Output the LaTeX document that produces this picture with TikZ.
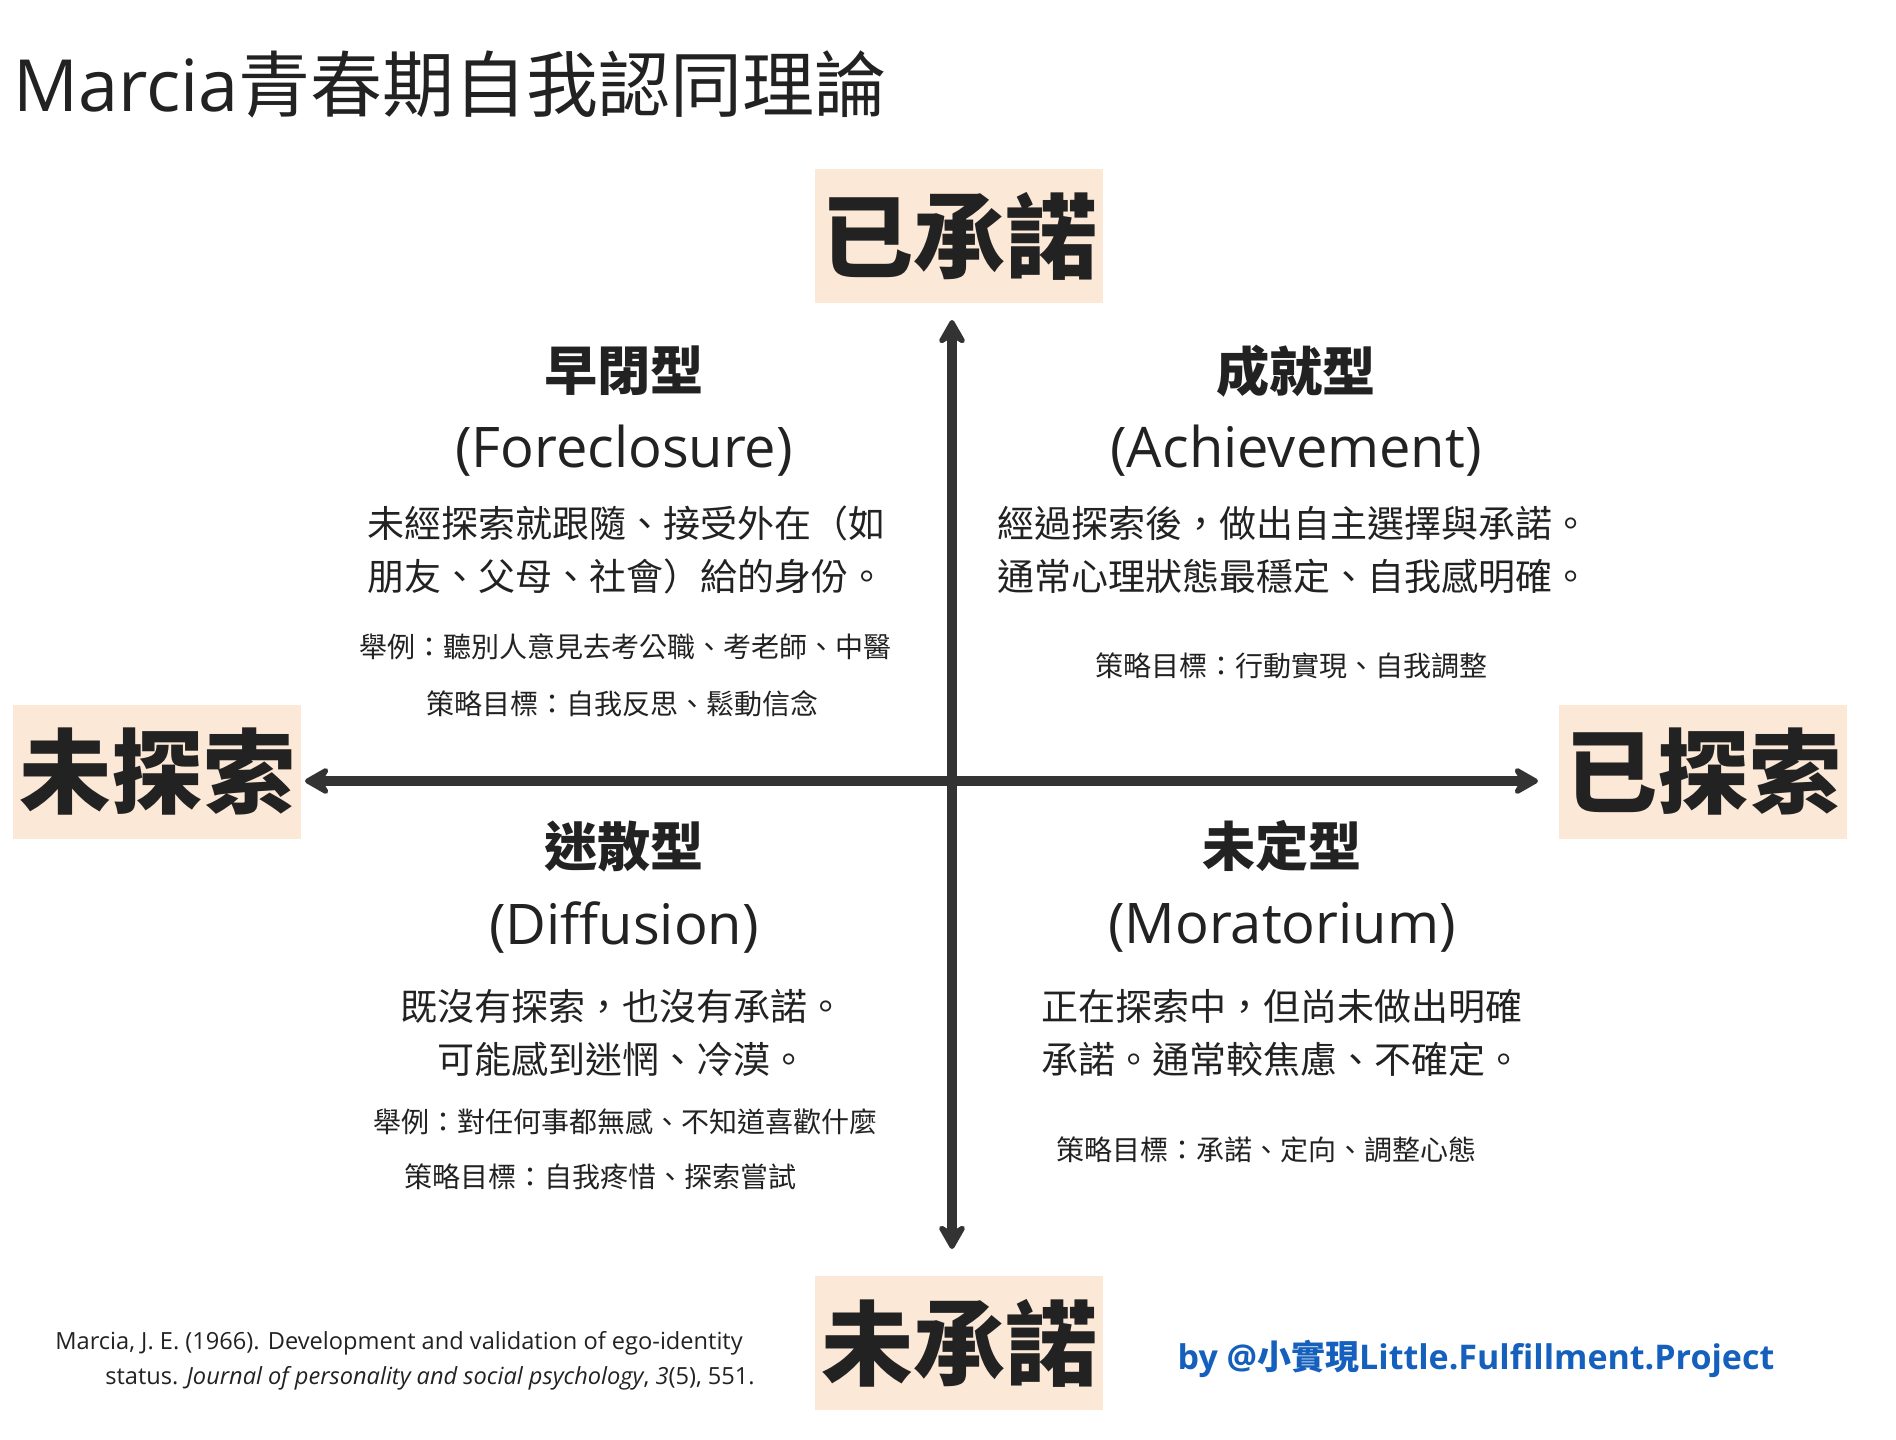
\documentclass[tikz,border=0pt]{standalone}
\usepackage{fontspec}
\setmainfont{Open Sans}
\newfontfamily\cjk{Noto Sans CJK TC}
\usetikzlibrary{arrows.meta,positioning}
\definecolor{peach}{HTML}{FBE8D7}
\definecolor{ink}{HTML}{222222}
\definecolor{axisgray}{HTML}{333333}
\definecolor{creditblue}{HTML}{1560BD}

\begin{document}
\begin{tikzpicture}[x=0.5pt, y=-0.5pt,
  axislabel/.style={fill=peach, text=ink, inner sep=0pt, minimum width=144pt, minimum height=67pt, font=\cjk\bfseries\fontsize{46}{46}\selectfont},
  quadhead/.style={text=ink, inner sep=0pt, font=\cjk\bfseries\fontsize{26.6}{30}\selectfont},
  quadname/.style={text=ink, inner sep=0pt, font=\fontsize{28}{32}\selectfont},
  quaddesc/.style={text=ink, inner sep=0pt, font=\cjk\fontsize{18.5}{26.5}\selectfont},
  quadnote/.style={text=ink, inner sep=0pt, font=\cjk\fontsize{14}{17}\selectfont},
  arr/.style={{Stealth[length=15pt,width=17pt,inset=5pt,round]}-{Stealth[length=15pt,width=17pt,inset=5pt,round]}, line width=5pt, draw=axisgray}
]
\fill[white] (0,0) rectangle (1896,1440);
\useasboundingbox (0,0) rectangle (1896,1440);

\node[anchor=base west, inner sep=0pt, text=ink, font=\fontsize{36}{40}\selectfont] (title) at (13,111) {Marcia{\cjk 青春期自我認同理論}};

% axes
\node[axislabel] (commit) at (959,236) {已承諾};
\node[axislabel] (nocommit) at (959,1343) {未承諾};
\node[axislabel] (noexplore) at (157,772) {未探索};
\node[axislabel] (explore) at (1703,772) {已探索};
\coordinate (ntip) at (952,320);
\coordinate (stip) at (952,1249);
\coordinate (wtip) at (305,781);
\coordinate (etip) at (1538,781);
\draw[arr] (ntip) -- (stip);
\draw[arr] (wtip) -- (etip);

% foreclosure
\node[quadhead] (fhead) at (624,371) {早閉型};
\node[quadname] (fname) at (624,451) {(Foreclosure)};
\node[quaddesc, align=left] (fdesc) at (626,550) {未經探索就跟隨、接受外在（如\\朋友、父母、社會）給的身份。};
\node[quadnote] (fex) at (625,647) {舉例：聽別人意見去考公職、考老師、中醫};
\node[quadnote] (fgoal) at (622,704) {策略目標：自我反思、鬆動信念};

% achievement
\node[quadhead] (ahead) at (1296,371) {成就型};
\node[quadname] (aname) at (1296,451) {(Achievement)};
\node[quaddesc, align=left] (adesc) at (1293,550) {經過探索後，做出自主選擇與承諾。\\通常心理狀態最穩定、自我感明確。};
\node[quadnote] (agoal) at (1291,666) {策略目標：行動實現、自我調整};

% diffusion
\node[quadhead] (dhead) at (624,846) {迷散型};
\node[quadname] (dname) at (624,927) {(Diffusion)};
\node[quaddesc, align=center] (ddesc) at (622,1033) {既沒有探索，也沒有承諾。\\可能感到迷惘、冷漠。};
\node[quadnote] (dex) at (625,1122) {舉例：對任何事都無感、不知道喜歡什麼};
\node[quadnote] (dgoal) at (600,1177) {策略目標：自我疼惜、探索嘗試};

% moratorium
\node[quadhead] (mhead) at (1282,846) {未定型};
\node[quadname] (mname) at (1282,927) {(Moratorium)};
\node[quaddesc, align=left] (mdesc) at (1282,1033) {正在探索中，但尚未做出明確\\承諾。通常較焦慮、不確定。};
\node[quadnote] (mgoal) at (1266,1150) {策略目標：承諾、定向、調整心態};

% footer
\node[anchor=west, align=left, inner sep=0pt, text=ink, font=\fontsize{11.8}{17.5}\selectfont] (cite) at (55,1361) {Marcia, J. E. (1966). Development and validation of ego-identity\\\hspace*{25pt}status. \textit{Journal of personality and social psychology}, \textit{3}(5), 551.};
\node[inner sep=0pt, text=creditblue, font=\bfseries\fontsize{17}{20}\selectfont] (credit) at (1476,1359) {by @{\cjk 小實現}Little.Fulfillment.Project};
\end{tikzpicture}
\end{document}
